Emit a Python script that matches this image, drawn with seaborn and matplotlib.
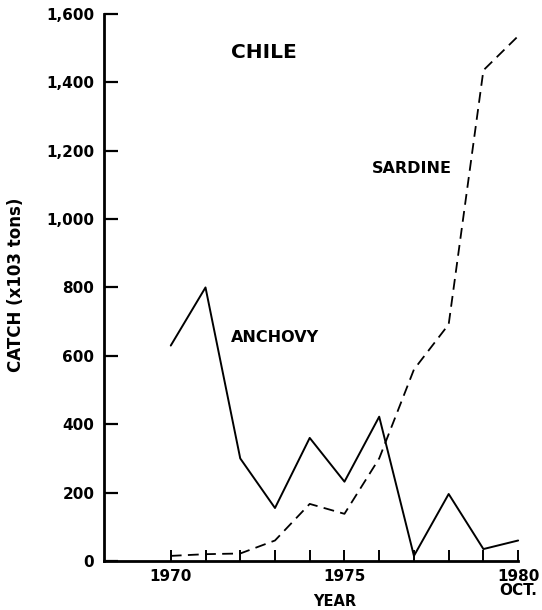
import matplotlib
matplotlib.use("Agg")
import matplotlib.pyplot as plt
import seaborn as sns
import pandas as pd

years = [1970, 1971, 1972, 1973, 1974, 1975, 1976, 1977, 1978, 1979, 1980]
anchovy = [630, 800, 300, 155, 360, 232, 422, 15, 196, 35, 60]
sardine = [15, 20, 22, 60, 167, 138, 300, 560, 692, 1435, 1535]
y_ticks = [0, 200, 400, 600, 800, 1000, 1200, 1400, 1600]
y_tick_labels = ["0", "200", "400", "600", "800", "1,000", "1,200", "1,400", "1,600"]
x_tick_labels = {1970: "1970", 1975: "1975", 1980: "1980\nOCT."}

sns.set_style("ticks")
plt.rcParams['font.family'] = ['DejaVu Sans']
plt.rcParams['font.weight'] = 'bold'
plt.rcParams['text.color'] = 'black'
plt.rcParams['axes.labelcolor'] = 'black'

df = pd.DataFrame({"year": years, "anchovy": anchovy, "sardine": sardine})

fig = plt.figure(figsize=(5.42, 6.10), dpi=100)
ax = fig.add_axes([0.192, 0.0803, 0.764, 0.897])

sns.lineplot(data=df, x="year", y="anchovy", ax=ax, color="black", lw=1.4, clip_on=False)
sns.lineplot(data=df, x="year", y="sardine", ax=ax, color="black", lw=1.3,
             linestyle=(0, (6, 3.5)), clip_on=False)

ax.set_xlim(1968.08, 1980)
ax.set_ylim(0, 1600)
sns.despine(ax=ax)
for s in ["left", "bottom"]:
    ax.spines[s].set_linewidth(2.0)
    ax.spines[s].set_color("black")

ax.set_yticks(y_ticks)
ax.set_yticklabels(y_tick_labels, fontsize=11, fontweight="bold", color="black")
ax.set_xticks(years)
ax.set_xticklabels([x_tick_labels.get(y, "") for y in years], fontsize=11,
                   fontweight="bold", linespacing=0.9, color="black")
ax.tick_params(axis="y", direction="in", length=10, width=1.6, pad=7, colors="black")
ax.tick_params(axis="x", direction="in", length=8, width=1.4, pad=6, colors="black")

ax.set_xlabel("YEAR", fontsize=10.5, fontweight="bold", color="black")
ax.xaxis.set_label_coords(0.558, -0.060)
ax.set_ylabel("CATCH (x103 tons)", fontsize=12, fontweight="bold", color="black")
ax.yaxis.set_label_coords(-0.191, 0.505)

ax.text(1972.67, 1488, "CHILE", fontsize=14.5, fontweight="bold", ha="center",
        va="center", color="black")
ax.text(1976.93, 1149, "SARDINE", fontsize=11.5, fontweight="bold", ha="center",
        va="center", color="black")
ax.text(1973.0, 655, "ANCHOVY", fontsize=11.5, fontweight="bold", ha="center",
        va="center", color="black")

fig.savefig("out.png", dpi=100, facecolor="white")
